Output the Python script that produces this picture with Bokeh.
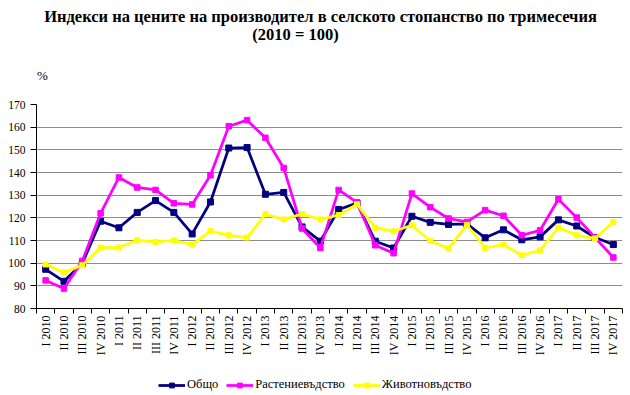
from math import pi
from bokeh.plotting import figure
from bokeh.layouts import column
from bokeh.models import Range1d, FixedTicker, Legend, LegendItem
from bokeh.core.properties import value
from bokeh.embed import file_html
from bokeh.resources import INLINE

quarters = ["I", "II", "III", "IV"]
years = [2010, 2011, 2012, 2013, 2014, 2015, 2016, 2017]
tick_labels = [f"{q} {y}" for y in years for q in quarters]

obshto = [97.3, 92.0, 99.9, 118.5, 115.6, 122.4, 127.6, 122.4,
          112.9, 127.0, 150.8, 151.0, 130.4, 131.2, 116.0, 109.7,
          123.7, 126.5, 109.7, 106.7, 120.7, 118.0, 117.1, 117.3,
          111.2, 114.7, 110.3, 111.6, 119.1, 116.4, 111.3, 108.2]
rastenievadstvo = [92.4, 88.8, 101.0, 122.0, 137.8, 133.4, 132.3, 126.4,
                   125.9, 138.8, 160.4, 163.1, 155.3, 142.0, 115.3, 106.7,
                   132.3, 126.8, 107.9, 104.4, 130.7, 124.7, 119.7, 118.2,
                   123.4, 120.9, 112.3, 114.5, 128.2, 120.1, 111.3, 102.5]
zhivotnovadstvo = [99.4, 95.9, 99.1, 106.9, 106.9, 110.1, 109.4, 110.0,
                   108.2, 114.1, 112.3, 111.3, 121.6, 119.3, 121.7, 119.3,
                   121.2, 126.0, 115.6, 114.1, 116.7, 109.8, 106.5, 116.9,
                   106.7, 108.2, 103.5, 105.7, 115.7, 112.3, 110.9, 118.2]

series_names = ["Общо", "Растениевъдство", "Животновъдство"]
series_colors = ["#000080", "#FF00FF", "#FFFF00"]
y_ticks = [80, 90, 100, 110, 120, 130, 140, 150, 160, 170]

title_text = "Индекси на цените на производител в селското стопанство по тримесечия"
subtitle_text = "(2010 = 100)"
unit_text = "%"

SERIF = "Liberation Serif"
W = 630
LEFT, RIGHT = 36, 8          # frame borders shared by all three strips
xs = list(range(len(tick_labels)))
series = [obshto, rastenievadstvo, zhivotnovadstvo]
marker_sizes = [6, 5.5, 5]
LINE_W = 2.75


def strip(height, y_range):
    f = figure(width=W, height=height, x_range=Range1d(LEFT, W - RIGHT), y_range=y_range,
               output_backend="svg", toolbar_location=None,
               x_axis_type=None, y_axis_type=None,
               min_border_left=LEFT, min_border_right=RIGHT,
               min_border_top=0, min_border_bottom=0)
    f.outline_line_color = None
    f.xgrid.visible = False
    f.ygrid.visible = False
    return f


# ---- top strip: titles and unit (x, y in page pixels) ----------------------
top = strip(97, Range1d(97, 0))
top.text(x=[320], y=[16], text=[title_text], text_align="center",
         text_baseline="alphabetic", text_font=value(SERIF), text_font_style="bold",
         text_font_size="16.5px", text_color="black")
top.text(x=[295], y=[34], text=[subtitle_text], text_align="center",
         text_baseline="alphabetic", text_font=value(SERIF), text_font_style="bold",
         text_font_size="16.5px", text_color="black")
top.text(x=[36.5], y=[75], text=[unit_text], text_align="left",
         text_baseline="middle", text_font=value(SERIF), text_font_size="13px",
         text_color="black")

# ---- main chart ------------------------------------------------------------
p = figure(width=W, height=263, x_range=Range1d(-0.5, len(xs) - 0.5),
           y_range=Range1d(80, 170), output_backend="svg", toolbar_location=None,
           min_border_left=LEFT, min_border_right=RIGHT, min_border_top=7,
           min_border_bottom=52)
p.outline_line_color = None
p.xgrid.visible = False
p.ygrid.grid_line_color = "#8c8c8c"
p.ygrid.grid_line_width = 1

xa = p.xaxis[0]
xa.ticker = FixedTicker(ticks=xs, minor_ticks=[i - 0.5 for i in range(len(xs) + 1)])
xa.major_label_overrides = {i: lab for i, lab in enumerate(tick_labels)}
xa.major_label_orientation = pi / 2
xa.major_tick_line_color = None
xa.major_tick_out = 5
xa.major_tick_in = 0
xa.minor_tick_out = 5
xa.minor_tick_in = 0
xa.minor_tick_line_color = "black"
xa.axis_line_color = "black"
xa.major_label_standoff = 2
xa.major_label_text_font = SERIF
xa.major_label_text_font_size = "12px"
xa.major_label_text_color = "black"

ya = p.yaxis[0]
ya.ticker = FixedTicker(ticks=y_ticks, minor_ticks=[])
ya.major_tick_out = 6
ya.major_tick_in = 0
ya.major_tick_line_color = "black"
ya.axis_line_color = "black"
ya.major_label_standoff = 5
ya.major_label_text_font = SERIF
ya.major_label_text_font_size = "11.5px"
ya.major_label_text_color = "black"

for color, vals, msize in zip(series_colors, series, marker_sizes):
    p.line(xs, vals, line_color=color, line_width=LINE_W)
    p.scatter(xs, vals, marker="square", size=msize, fill_color=color, line_color=color)

# ---- legend strip (series drawn out of view, only the legend shows) ---------
lg = strip(35, Range1d(0, 35))
items = []
for name, color, vals, msize in zip(series_names, series_colors, series, marker_sizes):
    lr = lg.line(xs, vals, line_color=color, line_width=LINE_W)
    sr = lg.scatter(xs, vals, marker="square", size=msize, fill_color=color,
                    line_color=color)
    items.append(LegendItem(label=name, renderers=[lr, sr]))
legend = Legend(items=items, location=(122, 3), orientation="horizontal",
                glyph_width=27, glyph_height=12, label_height=12,
                label_standoff=2, spacing=8, padding=0, margin=0,
                border_line_color=None, background_fill_alpha=0,
                label_text_font=SERIF, label_text_font_size="12.5px",
                label_text_color="black")
lg.add_layout(legend)

layout = column(top, p, lg, spacing=0)
open("out.html", "w").write(file_html(layout, INLINE))
